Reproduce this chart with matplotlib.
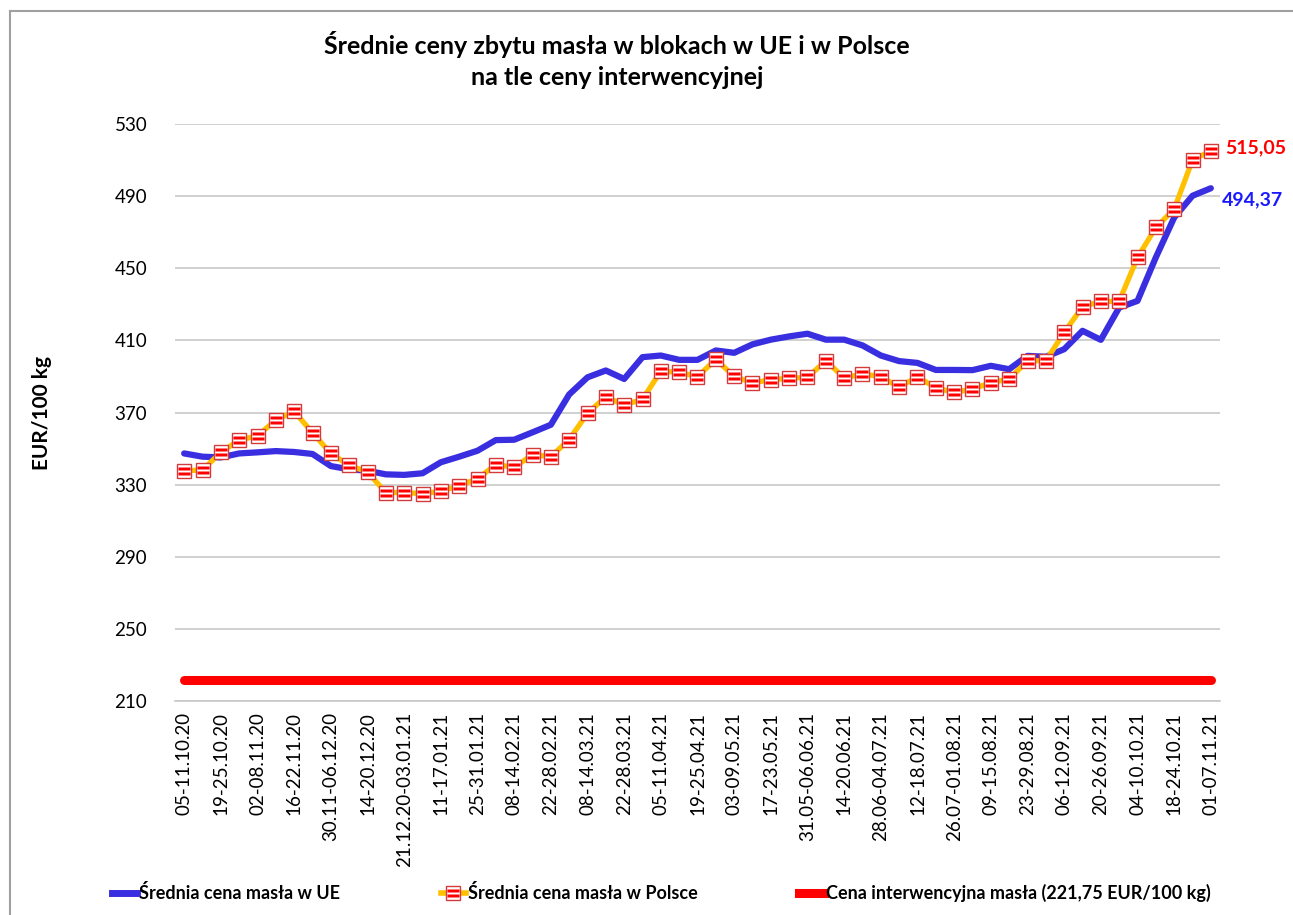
import matplotlib
matplotlib.use("Agg")
import matplotlib.pyplot as plt
from matplotlib.path import Path
from matplotlib.lines import Line2D
from matplotlib.legend_handler import HandlerTuple
import numpy as np

plt.rcParams['font.family'] = ['Lato', 'DejaVu Sans']

# ---- data ----
tick_labels = [
    "05-11.10.20", "19-25.10.20", "02-08.11.20", "16-22.11.20", "30.11-06.12.20",
    "14-20.12.20", "21.12.20-03.01.21", "11-17.01.21", "25-31.01.21", "08-14.02.21",
    "22-28.02.21", "08-14.03.21", "22-28.03.21", "05-11.04.21", "19-25.04.21",
    "03-09.05.21", "17-23.05.21", "31.05-06.06.21", "14-20.06.21", "28.06-04.07.21",
    "12-18.07.21", "26.07-01.08.21", "09-15.08.21", "23-29.08.21", "06-12.09.21",
    "20-26.09.21", "04-10.10.21", "18-24.10.21", "01-07.11.21",
]

eu_prices = [
    347.3, 345.5, 345.1, 347.3, 347.9, 348.6, 348.1, 347.0, 340.3, 338.5,
    337.7, 335.7, 335.4, 336.3, 342.4, 345.5, 348.8, 354.7, 354.9, 359.0,
    363.2, 380.0, 389.5, 393.3, 388.6, 400.7, 401.6, 399.2, 399.2, 404.4,
    403.1, 407.8, 410.4, 412.2, 413.7, 410.4, 410.4, 407.2, 401.6, 398.5,
    397.5, 393.6, 393.6, 393.5, 395.9, 394.0, 401.4, 400.9, 405.1, 415.3,
    410.3, 428.2, 431.9, 456.0, 478.1, 490.2, 494.37,
]

pl_prices = [
    337.7, 338.1, 347.9, 354.7, 357.1, 365.8, 370.6, 358.8, 347.3, 340.7,
    337.0, 325.6, 325.6, 325.0, 326.3, 329.4, 333.3, 341.1, 339.6, 346.6,
    345.5, 355.0, 369.6, 378.7, 374.1, 377.4, 392.9, 392.3, 389.9, 399.4,
    390.1, 386.4, 388.2, 389.0, 389.5, 398.7, 389.2, 391.4, 389.9, 384.0,
    389.9, 383.6, 381.2, 382.9, 386.6, 388.5, 398.7, 398.7, 414.4, 428.6,
    431.6, 431.6, 456.0, 472.6, 482.8, 510.0, 515.05,
]

intervention_price = 221.75
series_names = [
    "Średnia cena masła w UE",
    "Średnia cena masła w Polsce",
    "Cena interwencyjna masła (221,75 EUR/100 kg)",
]
title = "Średnie ceny zbytu masła w blokach w UE i w Polsce\nna tle ceny interwencyjnej"
ylabel = "EUR/100 kg"
yticks = [210, 250, 290, 330, 370, 410, 450, 490, 530]

# ---- styles ----
BLUE = "#3A2FE0"
YELLOW = "#FFC000"
RED = "#FF0000"
MEDGE = "#D23C3C"

# striped marker: two horizontal bars
bar_verts = []
bar_codes = []
for y0, y1 in [(0.14, 0.56), (-0.56, -0.14)]:
    bar_verts += [(-1, y0), (1, y0), (1, y1), (-1, y1), (-1, y0)]
    bar_codes += [Path.MOVETO, Path.LINETO, Path.LINETO, Path.LINETO, Path.CLOSEPOLY]
bar_verts += [(0, -1), (0, 1)]
bar_codes += [Path.MOVETO, Path.MOVETO]
stripe_marker = Path(bar_verts, bar_codes)

fig = plt.figure(figsize=(12.93, 9.15), dpi=100)
ax = fig.add_axes([175 / 1293, 1 - 701 / 915, 1045 / 1293, 577 / 915])

n = len(eu_prices)
x = np.arange(n)

ax.plot(x, [intervention_price] * n, color=RED, lw=6.5, solid_capstyle="round", zorder=3)
ax.plot(x, eu_prices, color=BLUE, lw=4.5, solid_capstyle="round", solid_joinstyle="round", zorder=4)
ax.plot(x, pl_prices, color=YELLOW, lw=3.8, zorder=5,
        marker="s", ms=10, mfc="white", mec=MEDGE, mew=1.0)
ax.plot(x, pl_prices, ls="none", marker=stripe_marker, ms=9.2, mfc=RED, mec="none", zorder=6)

ax.set_xlim(-0.5, n - 0.5)
ax.set_ylim(210, 530)
ax.set_yticks(yticks)
ax.set_yticklabels([str(v) for v in yticks], fontsize=13.5)
ax.set_xticks(x[::2])
ax.set_xticklabels(tick_labels, rotation=90, fontsize=13.5, va="top")
ax.tick_params(axis="both", length=0, pad=8)
ax.tick_params(axis="y", pad=20)
ax.grid(axis="y", color="#C8C8C8", lw=1.2)
ax.set_axisbelow(True)
for s in ["left", "right", "top"]:
    ax.spines[s].set_visible(False)
ax.spines["bottom"].set_color("#C8C8C8")
ax.spines["bottom"].set_linewidth(1.2)

ax.set_ylabel(ylabel, fontsize=15, fontweight="bold", labelpad=0)
ax.yaxis.set_label_coords(-123 / 1045, 0.5)

fig.text(617 / 1293, 1 - 60 / 915, title, ha="center", va="center",
         fontsize=18, fontweight="bold", linespacing=1.4)

# end value labels
ax.annotate(f"{pl_prices[-1]:.2f}".replace(".", ","), (x[-1], pl_prices[-1]),
            xytext=(10, 2), textcoords="offset points", color="#FF0000",
            fontsize=14, fontweight="bold", va="center")
ax.annotate(f"{eu_prices[-1]:.2f}".replace(".", ","), (x[-1], eu_prices[-1]),
            xytext=(8, -8), textcoords="offset points", color="#1A1AFF",
            fontsize=14, fontweight="bold", va="center")

# legend
h_eu = Line2D([], [], color=BLUE, lw=5)
h_pl = Line2D([], [], color=YELLOW, lw=4, marker="s", ms=10, mfc="white", mec=MEDGE)
h_pl_str = Line2D([], [], ls="none", marker=stripe_marker, ms=9.2, mfc=RED, mec="none")
h_int = Line2D([], [], color=RED, lw=6.5)
leg = fig.legend([h_eu, (h_pl, h_pl_str), h_int], series_names, loc="center",
                 bbox_to_anchor=(661 / 1293, 1 - 893 / 915),
                 handler_map={tuple: HandlerTuple(ndivide=1, pad=0)},
                 ncol=3, frameon=False, handlelength=1.4, handletextpad=0.1,
                 columnspacing=5.6,
                 prop={"weight": "bold", "size": 13})

# outer frame (top and left edges)
fig.add_artist(Line2D([10 / 1293, 1], [1 - 11 / 915] * 2, color="#A0A0A0", lw=1.5,
                      transform=fig.transFigure))
fig.add_artist(Line2D([10 / 1293] * 2, [0, 1 - 11 / 915], color="#A0A0A0", lw=1.5,
                      transform=fig.transFigure))

fig.savefig("out.png", dpi=100, facecolor="white")
